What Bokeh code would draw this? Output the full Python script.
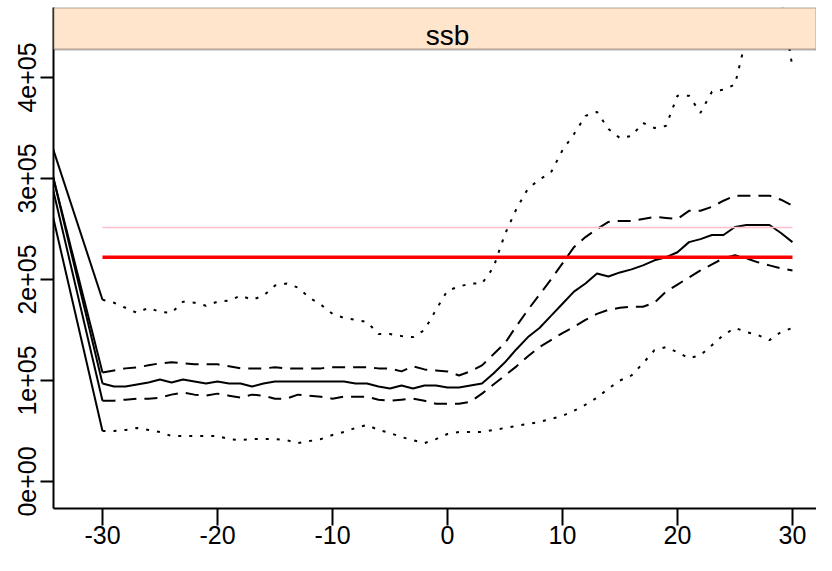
from bokeh.plotting import figure
from bokeh.models import FixedTicker, BoxAnnotation, Label, Range1d
from bokeh.embed import file_html
from bokeh.resources import INLINE

# ---- data -------------------------------------------------------------
years = list(range(-30, 31))

ssb_median = [97000, 94000, 94000, 96000, 98000, 101000, 98000, 101000, 99000, 97000,
              99000, 97000, 97000, 94000, 97000, 99000, 99000, 99000, 99000, 99000,
              99000, 99000, 97000, 97000, 94000, 92000, 95000, 92000, 95000, 95000,
              93000, 93000, 95000, 97000, 107000, 118000, 131000, 143000, 152000, 164000,
              176000, 188000, 196000, 206000, 203000, 207000, 210000, 214000, 219000, 222000,
              227000, 237000, 240000, 244000, 244000, 252000, 254000, 254000, 254000, 246000,
              237000]

ssb_q75 = [108000, 110000, 112000, 113000, 115000, 117000, 118000, 117000, 116000, 116000,
           116000, 114000, 112000, 112000, 112000, 113000, 112000, 112000, 112000, 112000,
           113000, 113000, 113000, 113000, 112000, 112000, 109000, 114000, 111000, 110000,
           109000, 105000, 109000, 115000, 126000, 137000, 154000, 170000, 185000, 200000,
           216000, 232000, 242000, 250000, 257000, 258000, 258000, 260000, 262000, 261000,
           260000, 268000, 268000, 272000, 278000, 283000, 283000, 283000, 283000, 279000,
           273000]

ssb_q25 = [80000, 80000, 81000, 82000, 82000, 83000, 86000, 88000, 86000, 85000,
           87000, 85000, 83000, 86000, 85000, 82000, 82000, 86000, 85000, 84000,
           82000, 84000, 84000, 84000, 81000, 80000, 81000, 82000, 80000, 77000,
           77000, 77000, 79000, 87000, 96000, 105000, 114000, 124000, 133000, 140000,
           147000, 153000, 160000, 166000, 170000, 172000, 173000, 173000, 177000, 188000,
           195000, 202000, 209000, 215000, 221000, 224000, 221000, 217000, 214000, 211000,
           209000]

ssb_q95 = [180000, 177000, 172000, 167000, 172000, 168000, 167000, 178000, 177000, 174000,
           178000, 179000, 184000, 180000, 184000, 194000, 196000, 192000, 182000, 175000,
           166000, 162000, 160000, 158000, 146000, 146000, 144000, 143000, 150000, 170000,
           189000, 193000, 196000, 196000, 212000, 245000, 270000, 290000, 299000, 306000,
           328000, 344000, 362000, 366000, 349000, 340000, 342000, 355000, 350000, 352000,
           382000, 382000, 365000, 386000, 388000, 393000, 440000, 470000, 480000, 480000,
           410000]

ssb_q05 = [50000, 50000, 51000, 53000, 51000, 49000, 45000, 45000, 45000, 45000,
           45000, 42000, 41000, 42000, 42000, 42000, 41000, 38000, 40000, 42000,
           46000, 49000, 53000, 56000, 51000, 48000, 44000, 41000, 38000, 42000,
           47000, 49000, 49000, 49000, 51000, 53000, 55000, 57000, 59000, 62000,
           65000, 70000, 76000, 83000, 92000, 100000, 105000, 117000, 130000, 133000,
           128000, 122000, 125000, 135000, 145000, 152000, 148000, 145000, 140000, 148000,
           152000]

# historical start (year -35) for each series: q95, q75, median, q25, q05
hist_year = -35
ssb_start = [353700, 333400, 335300, 323000, 296500]

ref_years = [-30, 30]
ssb_ref_red = 222000
ssb_ref_pink = 251500

y_ticks = [0, 100000, 200000, 300000, 400000]
y_tick_labels = ["0e+00", "1e+05", "2e+05", "3e+05", "4e+05"]
x_ticks = [-30, -20, -10, 0, 10, 20, 30]
x_tick_labels = ["-30", "-20", "-10", "0", "10", "20", "30"]
strip_label = "ssb"
strip_bottom = 427700
y_top = 469300

# ---- figure -----------------------------------------------------------
FONT = "Liberation Sans"
p = figure(width=816, height=555,
           x_range=Range1d(-34.26, 32.09), y_range=Range1d(-26733, y_top),
           output_backend="svg", toolbar_location=None,
           min_border_left=53, min_border_right=0, min_border_top=7,
           min_border_bottom=47)
p.outline_line_color = None
p.xgrid.visible = False
p.ygrid.visible = False
p.background_fill_color = "white"
p.border_fill_color = "white"

# axes
p.xaxis.ticker = FixedTicker(ticks=x_ticks)
p.xaxis.major_label_overrides = {t: l for t, l in zip(x_ticks, x_tick_labels)}
p.yaxis.ticker = FixedTicker(ticks=y_ticks)
p.yaxis.major_label_overrides = {t: l for t, l in zip(y_ticks, y_tick_labels)}
p.yaxis.major_label_orientation = "vertical"
for ax in (p.xaxis, p.yaxis):
    ax.axis_line_color = "black"
    ax.axis_line_width = 2
    ax.major_tick_line_color = "black"
    ax.major_tick_line_width = 2
    ax.major_tick_in = 0
    ax.minor_tick_line_color = None
    ax.major_label_text_font = FONT
    ax.major_label_text_font_size = "25px"
    ax.major_label_text_color = "black"
p.xaxis.major_tick_out = 17
p.yaxis.major_tick_out = 13
p.xaxis.major_label_standoff = 0
p.yaxis.major_label_standoff = 4

LW = 2
series = [(ssb_q95, "3 8"), (ssb_q75, "13 8"), (ssb_median, "solid"),
          (ssb_q25, "13 8"), (ssb_q05, "3 8")]
for (vals, dash), start in zip(series, ssb_start):
    p.line([hist_year, years[0]], [start, vals[0]], line_color="black", line_width=LW)
    p.line(years, vals, line_color="black", line_width=LW, line_dash=dash)

p.line(ref_years, [ssb_ref_pink, ssb_ref_pink], line_color="pink", line_width=1.5)
p.line(ref_years, [ssb_ref_red, ssb_ref_red], line_color="red", line_width=3.5)

# strip
strip = BoxAnnotation(bottom=strip_bottom, fill_color="#FFE5CC", fill_alpha=1.0,
                      line_color="black", line_width=2)
p.add_layout(strip)
p.add_layout(Label(x=0, y=441500, text=strip_label,
                   text_align="center", text_baseline="middle",
                   text_font=FONT, text_font_size="28px", text_color="black"))

open("out.html", "w").write(file_html(p, INLINE))
